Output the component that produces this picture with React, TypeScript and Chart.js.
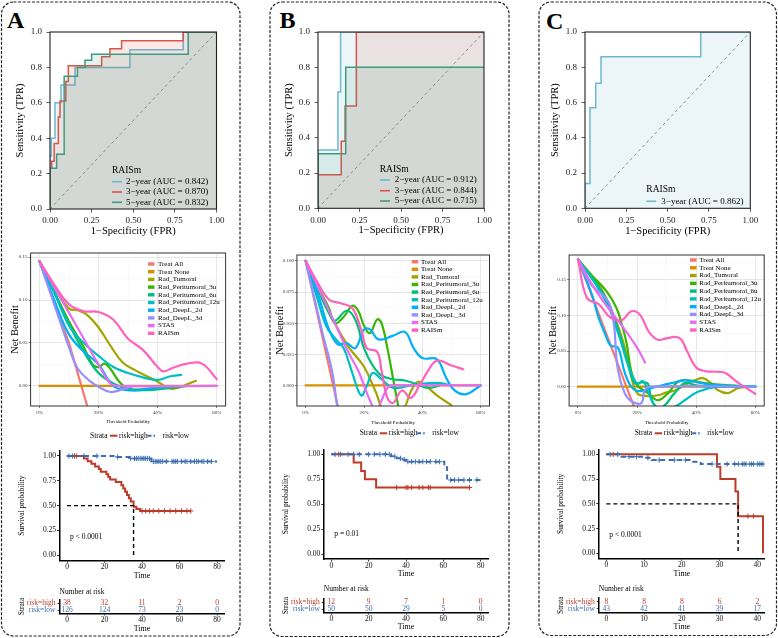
import React, { useEffect, useRef } from "react";
import { Chart, registerables } from "chart.js";

Chart.register(...registerables);

const FONT = '"Liberation Serif", "Times New Roman", Times, serif';
Chart.defaults.font.family = FONT;
Chart.defaults.color = "#000";

// ---------------- ROC data: [FPR, TPR] ----------------
const ROC_A_2Y = [[0,0],[0,0.3],[0.008,0.3],[0.008,0.4],[0.03,0.4],[0.03,0.6],[0.066,0.6],[0.066,0.7],[0.15,0.7],[0.15,0.8],[0.48,0.8],[0.48,0.9],[0.8,0.9],[0.8,1],[1,1]];
const ROC_A_3Y = [[0,0],[0,0.23],[0.01,0.23],[0.01,0.27],[0.025,0.27],[0.025,0.37],[0.05,0.37],[0.05,0.52],[0.06,0.52],[0.06,0.61],[0.095,0.61],[0.095,0.72],[0.11,0.72],[0.11,0.81],[0.31,0.81],[0.31,0.86],[0.36,0.86],[0.36,0.905],[0.43,0.905],[0.43,0.95],[0.8,0.95],[0.8,1],[1,1]];
const ROC_A_5Y = [[0,0],[0,0.23],[0.04,0.23],[0.04,0.31],[0.085,0.31],[0.085,0.75],[0.165,0.75],[0.165,0.8],[0.21,0.8],[0.21,0.84],[0.25,0.84],[0.25,0.875],[0.83,0.875],[0.83,1],[1,1]];
const ROC_B_2Y = [[0,0],[0,0.33],[0.12,0.33],[0.12,0.66],[0.136,0.66],[0.136,1],[1,1]];
const ROC_B_3Y = [[0,0],[0,0.19],[0.14,0.19],[0.14,0.38],[0.163,0.38],[0.163,0.58],[0.231,0.58],[0.231,1],[1,1]];
const ROC_B_5Y = [[0,0],[0,0.31],[0.167,0.31],[0.167,0.8],[1,0.8]];
const ROC_C_3Y = [[0,0],[0,0.14],[0.03,0.14],[0.03,0.57],[0.065,0.57],[0.065,0.71],[0.097,0.71],[0.097,0.86],[0.7,0.86],[0.7,1],[1,1]];
const ROC_LABELS_A = ["2\u2212year (AUC = 0.842)", "3\u2212year (AUC = 0.870)", "5\u2212year (AUC = 0.832)"];
const ROC_LABELS_B = ["2\u2212year (AUC = 0.912)", "3\u2212year (AUC = 0.844)", "5\u2212year (AUC = 0.715)"];
const ROC_LABELS_C = ["3\u2212year (AUC = 0.862)"];
const ROC_X_TICKS = [0, 0.25, 0.5, 0.75, 1];
const ROC_Y_TICKS = [0, 0.2, 0.4, 0.6, 0.8, 1];

// ---------------- DCA data: [threshold, net benefit] ----------------
const DCA_LABELS = ["Treat All","Treat None","Rad_Tumoral","Rad_Peritumoral_3u","Rad_Peritumoral_6u","Rad_Peritumoral_12u","Rad_DeepL_2d","Rad_DeepL_3d","STAS","RAISm"];
const DCA_X_TICKS = [0, 0.1, 0.2, 0.3, 0.4, 0.5, 0.6];

const DCA_A_ALL = [[0,0.145],[0.1,0.05],[0.2,-0.069]];
const DCA_A_NONE = [[0,0],[0.6,0]];
const DCA_A_TUM = [[0,0.145],[0.05,0.115],[0.1,0.09],[0.13,0.088],[0.16,0.083],[0.2,0.068],[0.24,0.047],[0.28,0.028],[0.32,0.019],[0.36,0.012],[0.4,0.005],[0.44,-0.003],[0.47,-0.002],[0.5,0.002],[0.53,0.006]];
const DCA_A_P3 = [[0,0.145],[0.05,0.11],[0.1,0.075],[0.15,0.045],[0.18,0.025],[0.2,0.022],[0.22,0.026],[0.24,0.02],[0.27,0.005],[0.3,-0.003],[0.35,-0.004],[0.4,-0.002],[0.45,0]];
const DCA_A_P6 = [[0,0.145],[0.05,0.108],[0.1,0.072],[0.15,0.04],[0.2,0.015],[0.25,0.003],[0.3,-0.004],[0.35,-0.005],[0.4,-0.004],[0.45,-0.002],[0.5,0]];
const DCA_A_P12 = [[0,0.145],[0.05,0.11],[0.1,0.07],[0.15,0.05],[0.2,0.035],[0.25,0.022],[0.3,0.015],[0.35,0.01],[0.4,0.007],[0.44,0.011],[0.48,0.013]];
const DCA_A_D2 = [[0,0.145],[0.05,0.1],[0.1,0.06],[0.15,0.04],[0.2,0.025],[0.25,0.0],[0.3,-0.005],[0.35,-0.004],[0.4,-0.002],[0.45,0]];
const DCA_A_D3 = [[0,0.145],[0.05,0.095],[0.1,0.045],[0.13,0.02],[0.17,0.006],[0.2,-0.001],[0.24,-0.007],[0.28,-0.004],[0.32,0]];
const DCA_A_STAS = [[0,0.145],[0.05,0.115],[0.1,0.085],[0.15,0.055],[0.2,0.025],[0.24,0.003],[0.27,0],[0.6,0]];
const DCA_A_RAISM = [[0,0.145],[0.05,0.118],[0.1,0.095],[0.15,0.087],[0.2,0.086],[0.25,0.077],[0.3,0.055],[0.35,0.042],[0.4,0.022],[0.42,0.017],[0.45,0.021],[0.5,0.026],[0.55,0.026],[0.6,0.008]];

const DCA_B_ALL = [[0,0.1],[0.15,-0.059]];
const DCA_B_NONE = [[0,0],[0.6,0]];
const DCA_B_TUM = [[0,0.1],[0.05,0.075],[0.1,0.05],[0.15,0.03],[0.2,0.015],[0.24,-0.005],[0.27,-0.02],[0.33,-0.02],[0.36,-0.005],[0.385,0.003],[0.41,0.0],[0.45,-0.008],[0.5,-0.016]];
const DCA_B_P3 = [[0,0.1],[0.04,0.08],[0.08,0.062],[0.1,0.05],[0.13,0.055],[0.16,0.064],[0.18,0.06],[0.2,0.048],[0.22,0.042],[0.245,0.053],[0.26,0.05],[0.28,0.03],[0.3,0.005],[0.32,-0.02]];
const DCA_B_P6 = [[0,0.1],[0.04,0.078],[0.08,0.058],[0.1,0.052],[0.14,0.06],[0.17,0.053],[0.2,0.03],[0.23,0.016],[0.26,0.008],[0.3,0.005],[0.34,0.004],[0.38,0.001],[0.42,-0.002],[0.46,0]];
const DCA_B_P12 = [[0,0.1],[0.04,0.07],[0.07,0.048],[0.1,0.038],[0.13,0.03],[0.16,0.01],[0.19,-0.008],[0.21,0],[0.23,0.01],[0.26,0.005],[0.3,-0.002],[0.36,0],[0.45,0.002],[0.5,0]];
const DCA_B_D2 = [[0,0.1],[0.04,0.075],[0.08,0.045],[0.11,0.033],[0.14,0.034],[0.17,0.03],[0.2,0.045],[0.22,0.045],[0.25,0.037],[0.3,0.04],[0.34,0.043],[0.37,0.03],[0.4,0.022],[0.45,0.021],[0.48,0.007],[0.51,-0.004],[0.55,-0.007],[0.6,0]];
const DCA_B_D3 = [[0,0.1],[0.03,0.07],[0.06,0.04],[0.09,0.012],[0.11,-0.02]];
const DCA_B_STAS = [[0,0.1],[0.05,0.075],[0.1,0.05],[0.15,0.025],[0.18,0.012],[0.2,0.0],[0.22,-0.012],[0.24,-0.02],[0.26,-0.012],[0.28,-0.002],[0.3,0],[0.6,0]];
const DCA_B_RAISM = [[0,0.1],[0.04,0.083],[0.08,0.069],[0.12,0.066],[0.16,0.062],[0.19,0.045],[0.21,0.03],[0.245,0.027],[0.26,0.012],[0.28,-0.01],[0.3,-0.014],[0.33,-0.004],[0.36,-0.01],[0.39,0.0],[0.42,0.012],[0.45,0.02],[0.5,0.016],[0.54,0.013]];

const DCA_C_ALL = [[0,0.179],[0.25,-0.094]];
const DCA_C_NONE = [[0,0],[0.6,0]];
const DCA_C_TUM = [[0,0.179],[0.04,0.158],[0.074,0.141],[0.108,0.113],[0.14,0.08],[0.165,0.045],[0.18,0.015],[0.2,-0.009],[0.23,-0.013],[0.27,-0.012],[0.3,-0.008],[0.33,-0.005],[0.36,0.002],[0.395,0.009],[0.423,0.012],[0.45,0.005],[0.474,-0.005],[0.508,-0.009],[0.541,-0.002],[0.58,0]];
const DCA_C_P3 = [[0,0.179],[0.05,0.155],[0.097,0.134],[0.131,0.11],[0.15,0.085],[0.165,0.06],[0.18,0.022],[0.2,0.002],[0.237,-0.009],[0.27,-0.019],[0.305,-0.009],[0.338,0.007],[0.372,0.009],[0.429,0.005],[0.474,0.003],[0.6,0]];
const DCA_C_P6 = [[0,0.179],[0.05,0.152],[0.1,0.12],[0.14,0.075],[0.17,0.03],[0.192,0.005],[0.215,0.006],[0.237,0.004],[0.25,-0.02],[0.28,-0.03],[0.327,-0.009],[0.361,0.005],[0.4,0.002],[0.45,0],[0.6,0]];
const DCA_C_P12 = [[0,0.179],[0.05,0.15],[0.1,0.115],[0.14,0.07],[0.17,0.03],[0.2,0.004],[0.22,0.008],[0.24,-0.01],[0.27,-0.03],[0.327,-0.028],[0.361,-0.019],[0.406,-0.007],[0.474,0],[0.6,0]];
const DCA_C_D2 = [[0,0.179],[0.046,0.131],[0.069,0.098],[0.09,0.076],[0.11,0.058],[0.135,0.055],[0.158,0.02],[0.18,0.0],[0.2,-0.006],[0.226,-0.005],[0.248,-0.002],[0.316,0.005],[0.361,0.009],[0.406,0.006],[0.45,0.003],[0.6,0]];
const DCA_C_D3 = [[0,0.179],[0.04,0.146],[0.108,0.115],[0.135,0.024],[0.158,-0.009],[0.18,-0.02],[0.214,-0.023],[0.226,-0.005],[0.248,0],[0.6,0]];
const DCA_C_STAS = [[0,0.179],[0.05,0.142],[0.1,0.112],[0.15,0.085],[0.2,0.055],[0.227,0.034]];
const DCA_C_RAISM = [[0,0.179],[0.03,0.125],[0.07,0.116],[0.11,0.097],[0.15,0.094],[0.18,0.106],[0.21,0.101],[0.24,0.077],[0.27,0.066],[0.3,0.068],[0.33,0.07],[0.35,0.066],[0.37,0.049],[0.4,0.027],[0.43,0.022],[0.47,0.021],[0.5,0.019],[0.54,0.006],[0.57,-0.002],[0.6,-0.01]];

// ---------------- Kaplan-Meier data: [time, survival] steps ----------------
const KM_A_HIGH = [[0,1],[9,0.974],[11,0.947],[13,0.921],[15,0.895],[17,0.868],[18,0.842],[21,0.816],[22,0.789],[23,0.763],[26,0.737],[29,0.705],[30,0.672],[31,0.64],[32,0.607],[33,0.574],[34,0.541],[35.5,0.49],[37,0.466],[39,0.447],[66,0.447]];
const KM_A_LOW = [[0,1],[27,0.99],[34,0.975],[45,0.945],[80,0.945]];
const KM_A_HIGH_CENS = [4,5,40,42,44,46,49,52,55,58,61,64,66];
const KM_A_LOW_CENS = [1,3,9,16,27,34,36,37,38,39,40,41,42,43,44,46,47,48,49,50,51,53,56,57,58,59,61,63,64,66,68,69,70,72,73,75,77];
const KM_A_MEDIAN = 35.5;

const KM_B_HIGH = [[0,1],[12,0.917],[16,0.833],[18,0.75],[24,0.667],[74,0.667]];
const KM_B_LOW = [[0,1],[32,0.98],[35,0.96],[38,0.946],[40,0.926],[60.5,0.87],[62,0.742],[80,0.742]];
const KM_B_HIGH_CENS = [4,35,40,41,43,47,49,52,53,74];
const KM_B_LOW_CENS = [2,5,9,12,15,20,23,26,29,31,34,37,39,41,43,45,47,49,51,53,56,58,64,66,68,71,74,78];

const KM_C_HIGH = [[0,1],[29.3,0.875],[30.2,0.75],[34.2,0.625],[34.9,0.375],[41.5,0]];
const KM_C_LOW = [[0,1],[4,0.977],[10,0.965],[12,0.942],[23,0.925],[25,0.902],[42,0.902]];
const KM_C_HIGH_CENS = [1.8,37.5,39];
const KM_C_LOW_CENS = [1,3,6,8,11,14,18,21,28,32,34,35,36,36.5,37,38,38.5,39,40,40.5,41,41.5];
const KM_C_MEDIAN = 34.9;

// ---------------- Number at risk ----------------
const RISK_TIMES_AB = [0,20,40,60,80];
const RISK_TIMES_C = [0,10,20,30,40];
const RISK_A_HIGH = [38,32,11,2,0];
const RISK_A_LOW = [126,124,73,23,0];
const RISK_B_HIGH = [12,9,7,1,0];
const RISK_B_LOW = [50,50,29,5,0];
const RISK_C_HIGH = [8,8,8,6,2];
const RISK_C_LOW = [43,42,41,39,17];
const STRATA = ["risk=high", "risk=low"];
const KM_Y_TICKS = [0, 0.25, 0.5, 0.75, 1];

// ---------------- styles ----------------
const ROC_COLORS = ["#6CB9D0", "#DA5548", "#3C9C80"];
const DCA_COLORS = ["#F8766D","#D89000","#A3A500","#39B600","#00BF7D","#00BFC4","#00B0F6","#9590FF","#E76BF3","#FF62BC"];
const KM_RED = "#BC3C29";
const KM_BLUE = "#3B6DB0";

const rgba = (hex: string, a: number) => {
  const n = parseInt(hex.slice(1), 16);
  return `rgba(${n >> 16},${(n >> 8) & 255},${n & 255},${a})`;
};
const pts = (arr: number[][]) => arr.map(([x, y]) => ({ x, y }));
const survAt = (steps: number[][], t: number) => {
  let s = steps[0][1];
  for (const [tt, ss] of steps) if (tt <= t) s = ss;
  return s;
};

type Geo = { cl: number; ct: number; cr: number; cb: number; L: number; T: number; R: number; B: number };

function yTitle(text: string, size: number, cx: number, g: Geo) {
  const lh = size * 1.2;
  return { display: true, text, color: "#000", font: { family: FONT, size }, padding: { top: cx - g.cl - lh / 2, bottom: 0 } };
}
function xTitle(text: string, size: number, cy: number, g: Geo) {
  const lh = size * 1.2;
  return { display: true, text, color: "#000", font: { family: FONT, size }, padding: { top: 0, bottom: g.cb - cy - lh / 2 } };
}
function text(ctx: any, s: string, x: number, y: number, size: number, color = "#000", align = "left") {
  ctx.save();
  ctx.font = `${size}px ${FONT}`;
  ctx.fillStyle = color;
  ctx.textAlign = align;
  ctx.textBaseline = "middle";
  ctx.fillText(s, x, y);
  ctx.restore();
}
const framePlugin = (w: number, color: string) => ({
  id: "frame",
  afterDatasetsDraw(chart: any) {
    const { ctx, chartArea: a } = chart;
    ctx.save();
    ctx.strokeStyle = color;
    ctx.lineWidth = w;
    ctx.strokeRect(a.left, a.top, a.right - a.left, a.bottom - a.top);
    ctx.restore();
  },
});

function ChartCanvas({ geo, build }: { geo: Geo; build: (g: Geo) => any }) {
  const ref = useRef<HTMLCanvasElement | null>(null);
  const w = geo.cr - geo.cl;
  const h = geo.cb - geo.ct;
  useEffect(() => {
    if (!ref.current) return;
    const cfg = build(geo);
    const o = cfg.options;
    o.responsive = false;
    o.maintainAspectRatio = false;
    o.animation = false;
    o.devicePixelRatio = 1;
    o.events = [];
    o.layout = { padding: { left: 0, bottom: 0, top: geo.T - geo.ct, right: geo.cr - geo.R } };
    o.plugins = Object.assign({ legend: { display: false }, tooltip: { enabled: false }, title: { display: false } }, o.plugins || {});
    o.scales.x.afterFit = (s: any) => { s.height = geo.cb - geo.B; s.paddingLeft = 0; s.paddingRight = 0; };
    o.scales.y.afterFit = (s: any) => { s.width = geo.L - geo.cl; s.paddingTop = 0; s.paddingBottom = 0; };
    const chart = new Chart(ref.current, cfg);
    return () => chart.destroy();
  }, []);
  return <canvas ref={ref} width={w} height={h} style={{ position: "absolute", left: geo.cl, top: geo.ct, width: w, height: h }} />;
}

// ---------------- ROC ----------------
type RocSpec = { curves: number[][][]; colors: string[]; labels: string[]; leg: { tx: number; ty: number; sx: number; textX: number; rows: number[] }; yTx: number; xTy: number };
function buildRoc(s: RocSpec) {
  return (g: Geo) => {
    const datasets: any[] = [
      { data: [{ x: 0, y: 0 }, { x: 1, y: 1 }], borderColor: "#8a8a8a", borderWidth: 1, borderDash: [3, 3], pointRadius: 0, fill: false, tension: 0, order: 10 },
      ...s.curves.map((c, i) => ({ data: pts(c), borderColor: s.colors[i], backgroundColor: rgba(s.colors[i], 0.13), borderWidth: 1.5, pointRadius: 0, fill: "origin", tension: 0, order: s.curves.length - i })),
    ];
    const tickFont = { family: FONT, size: 9 };
    return {
      type: "line",
      data: { datasets },
      options: {
        scales: {
          x: {
            type: "linear", min: 0, max: 1,
            afterBuildTicks: (sc: any) => { sc.ticks = ROC_X_TICKS.map((v) => ({ value: v })); },
            ticks: { autoSkip: false, maxRotation: 0, font: tickFont, color: "#222", padding: 3, callback: (v: any) => Number(v).toFixed(2) },
            grid: { drawOnChartArea: false, drawTicks: true, tickLength: 3.5, tickColor: "#333", tickWidth: 0.8 },
            border: { display: false },
            title: xTitle("1\u2212Specificity (FPR)", 10.5, s.xTy, g),
          },
          y: {
            type: "linear", min: 0, max: 1,
            afterBuildTicks: (sc: any) => { sc.ticks = ROC_Y_TICKS.map((v) => ({ value: v })); },
            ticks: { autoSkip: false, font: tickFont, color: "#222", padding: 4.5, callback: (v: any) => Number(v).toFixed(1) },
            grid: { drawOnChartArea: false, drawTicks: true, tickLength: 3.5, tickColor: "#333", tickWidth: 0.8 },
            border: { display: false },
            title: yTitle("Sensitivity (TPR)", 10.5, s.yTx, g),
          },
        },
      },
      plugins: [
        framePlugin(1.1, "#222"),
        {
          id: "rocLegend",
          afterDatasetsDraw(chart: any) {
            const ctx = chart.ctx;
            const L = s.leg;
            text(ctx, "RAISm", L.tx - g.cl, L.ty - g.ct, 9.5);
            s.labels.forEach((lab, i) => {
              const y = L.rows[i] - g.ct;
              ctx.save();
              ctx.strokeStyle = s.colors[i];
              ctx.lineWidth = 1.6;
              ctx.beginPath();
              ctx.moveTo(L.sx - g.cl, y);
              ctx.lineTo(L.sx + 10 - g.cl, y);
              ctx.stroke();
              ctx.restore();
              text(ctx, lab, L.textX - g.cl, y, 9);
            });
          },
        },
      ],
    };
  };
}

// ---------------- DCA ----------------
type DcaSpec = { series: number[][][]; yMin: number; yMax: number; yTicks: number[]; yStep: number; yDigits: number; leg: { sx: number; tx: number; y0: number; dy: number }; yTx: number; xTy: number };
function buildDca(s: DcaSpec) {
  return (g: Geo) => {
    const datasets = s.series.map((p, i) => ({
      data: pts(p), borderColor: DCA_COLORS[i], borderWidth: 2.2, pointRadius: 0, fill: false,
      tension: i < 2 ? 0 : 0.4, capBezierPoints: false, borderCapStyle: "round", order: s.series.length - i,
    }));
    const majX = (v: number) => Math.abs(v * 5 - Math.round(v * 5)) < 1e-6;
    const majY = (v: number) => Math.abs(v / s.yStep - Math.round(v / s.yStep)) < 1e-6;
    const tv = (c: any) => (c && c.tick ? c.tick.value : 0);
    const tickFont = { family: FONT, size: 5 };
    return {
      type: "line",
      data: { datasets },
      options: {
        scales: {
          x: {
            type: "linear", min: -0.03, max: 0.63,
            afterBuildTicks: (sc: any) => { sc.ticks = DCA_X_TICKS.map((v) => ({ value: v })); },
            ticks: { autoSkip: false, maxRotation: 0, font: tickFont, color: "#333", padding: 1.5, callback: (v: any) => (majX(v) ? Math.round(v * 100) + "%" : "") },
            grid: {
              color: (c: any) => (majX(tv(c)) ? "#E4E4E4" : "#F2F2F2"),
              lineWidth: (c: any) => (majX(tv(c)) ? 0.9 : 0.5),
              drawTicks: true, tickLength: 2,
              tickColor: (c: any) => (majX(tv(c)) ? "#333" : "rgba(0,0,0,0)"),
              tickWidth: 0.6,
            },
            border: { display: false },
            title: xTitle("Threshold Probability", 5, s.xTy, g),
          },
          y: {
            type: "linear", min: s.yMin, max: s.yMax,
            afterBuildTicks: (sc: any) => { sc.ticks = s.yTicks.map((v) => ({ value: v })); },
            ticks: { autoSkip: false, font: tickFont, color: "#333", padding: 1, callback: (v: any) => (majY(v) ? Number(v).toFixed(s.yDigits) : "") },
            grid: {
              color: (c: any) => (majY(tv(c)) ? "#E4E4E4" : "#F2F2F2"),
              lineWidth: (c: any) => (majY(tv(c)) ? 0.9 : 0.5),
              drawTicks: true, tickLength: 2,
              tickColor: (c: any) => (majY(tv(c)) ? "#333" : "rgba(0,0,0,0)"),
              tickWidth: 0.6,
            },
            border: { display: false },
            title: yTitle("Net Benefit", 10.5, s.yTx, g),
          },
        },
      },
      plugins: [
        framePlugin(1, "#333"),
        {
          id: "dcaLegend",
          afterDatasetsDraw(chart: any) {
            const ctx = chart.ctx;
            const L = s.leg;
            DCA_LABELS.forEach((lab, i) => {
              const y = L.y0 + i * L.dy - g.ct;
              ctx.save();
              ctx.fillStyle = DCA_COLORS[i];
              ctx.fillRect(L.sx - g.cl, y - 1.7, 6.5, 3.4);
              ctx.restore();
              text(ctx, lab, L.tx - g.cl, y, 7);
            });
          },
        },
      ],
    };
  };
}

// ---------------- Kaplan-Meier ----------------
type KmSpec = { xMax: number; xTicks: number[]; high: number[][]; low: number[][]; highCens: number[]; lowCens: number[]; median: number | null; pText: string; pPos: number[]; legX0: number; legY: number; yTx: number; xTy: number };
function buildKm(s: KmSpec) {
  return (g: Geo) => {
    const pad = s.xMax * 0.05;
    const datasets: any[] = [
      { data: pts(s.high), borderColor: KM_RED, borderWidth: 2, stepped: true, pointRadius: 0, fill: false, order: 4 },
      { data: pts(s.low), borderColor: KM_BLUE, borderWidth: 2, borderDash: [5, 3.5], stepped: true, pointRadius: 0, fill: false, order: 3 },
      { data: s.highCens.map((t) => ({ x: t, y: survAt(s.high, t) })), showLine: false, pointStyle: "cross", pointRadius: 2.6, pointBorderColor: KM_RED, pointBorderWidth: 1, order: 2 },
      { data: s.lowCens.map((t) => ({ x: t, y: survAt(s.low, t) })), showLine: false, pointStyle: "cross", pointRadius: 2.6, pointBorderColor: KM_BLUE, pointBorderWidth: 1, order: 1 },
    ];
    if (s.median !== null) {
      datasets.push({ data: [{ x: 0, y: 0.5 }, { x: s.median, y: 0.5 }, { x: s.median, y: 0 }], borderColor: "#000", borderWidth: 1.4, borderDash: [4, 3], pointRadius: 0, fill: false, tension: 0, order: 0 });
    }
    const tickFont = { family: FONT, size: 7.5 };
    return {
      type: "line",
      data: { datasets },
      options: {
        scales: {
          x: {
            type: "linear", min: -pad, max: s.xMax + pad,
            afterBuildTicks: (sc: any) => { sc.ticks = s.xTicks.map((v) => ({ value: v })); },
            ticks: { autoSkip: false, maxRotation: 0, font: tickFont, color: "#111", padding: 0 },
            grid: { drawOnChartArea: false, drawTicks: true, tickLength: 2.5, tickColor: "#000", tickWidth: 0.8 },
            border: { display: true, color: "#000", width: 1.5 },
            title: xTitle("Time", 8, s.xTy, g),
          },
          y: {
            type: "linear", min: -0.05, max: 1.05,
            afterBuildTicks: (sc: any) => { sc.ticks = KM_Y_TICKS.map((v) => ({ value: v })); },
            ticks: { autoSkip: false, font: tickFont, color: "#111", padding: 1, callback: (v: any) => Number(v).toFixed(2) },
            grid: { drawOnChartArea: false, drawTicks: true, tickLength: 2.5, tickColor: "#000", tickWidth: 0.8 },
            border: { display: true, color: "#000", width: 1.5 },
            title: yTitle("Survival probability", 7.5, s.yTx, g),
          },
        },
      },
      plugins: [
        {
          id: "kmText",
          afterDatasetsDraw(chart: any) {
            const ctx = chart.ctx;
            const xs = chart.scales.x, ys = chart.scales.y;
            text(ctx, s.pText, xs.getPixelForValue(s.pPos[0]), ys.getPixelForValue(s.pPos[1]), 7.5);
            const x0 = s.legX0 - g.cl, y = s.legY - g.ct;
            text(ctx, "Strata", x0, y, 7.5);
            ctx.save();
            ctx.lineWidth = 2;
            ctx.strokeStyle = KM_RED;
            ctx.beginPath(); ctx.moveTo(x0 + 20, y); ctx.lineTo(x0 + 27.5, y); ctx.stroke();
            ctx.strokeStyle = KM_BLUE;
            ctx.setLineDash([4, 2]);
            ctx.beginPath(); ctx.moveTo(x0 + 57.5, y); ctx.lineTo(x0 + 65, y); ctx.stroke();
            ctx.restore();
            text(ctx, STRATA[0], x0 + 29, y, 7.5);
            text(ctx, STRATA[1], x0 + 72.5, y, 7.5);
          },
        },
      ],
    };
  };
}

// ---------------- Risk table ----------------
type RiskSpec = { xMax: number; xTicks: number[]; times: number[]; high: number[]; low: number[]; numY: number; yTx: number; xTy: number };
function buildRisk(s: RiskSpec) {
  return (g: Geo) => {
    const pad = s.xMax * 0.05;
    const tickFont = { family: FONT, size: 7.5 };
    return {
      type: "line",
      data: { datasets: [] },
      options: {
        scales: {
          x: {
            type: "linear", min: -pad, max: s.xMax + pad,
            afterBuildTicks: (sc: any) => { sc.ticks = s.xTicks.map((v) => ({ value: v })); },
            ticks: { autoSkip: false, maxRotation: 0, font: tickFont, color: "#111", padding: 0 },
            grid: { drawOnChartArea: false, drawTicks: true, tickLength: 2, tickColor: "#000", tickWidth: 0.8 },
            border: { display: true, color: "#000", width: 1.5 },
            title: xTitle("Time", 8, s.xTy, g),
          },
          y: {
            type: "category", labels: STRATA, offset: true,
            ticks: { autoSkip: false, font: tickFont, padding: 2, color: (c: any) => (c.index === 0 ? KM_RED : KM_BLUE) },
            grid: { drawOnChartArea: false, drawTicks: true, tickLength: 2, tickColor: "#000", tickWidth: 0.8 },
            border: { display: true, color: "#000", width: 1.5 },
            title: yTitle("Strata", 7.5, s.yTx, g),
          },
        },
      },
      plugins: [
        {
          id: "riskNums",
          afterDraw(chart: any) {
            const ctx = chart.ctx;
            const xs = chart.scales.x, ys = chart.scales.y;
            text(ctx, "Number at risk", chart.chartArea.left, s.numY - g.ct, 7.5);
            [s.high, s.low].forEach((row, r) => {
              row.forEach((n, i) => {
                text(ctx, String(n), xs.getPixelForValue(s.times[i]), ys.getPixelForValue(r), 7.5, r === 0 ? KM_RED : KM_BLUE, "center");
              });
            });
          },
        },
      ],
    };
  };
}

// ---------------- layout ----------------
const G = {
  rocA: { cl: 12, ct: 20, cr: 234, cb: 240, L: 50, T: 32, R: 216.5, B: 209 },
  rocB: { cl: 281, ct: 20, cr: 500, cb: 239, L: 318, T: 32, R: 484, B: 208.3 },
  rocC: { cl: 547, ct: 20, cr: 766, cb: 240, L: 585, T: 32, R: 750.3, B: 208.3 },
  dcaA: { cl: 6, ct: 246, cr: 236, cb: 427, L: 30.6, T: 253, R: 225.6, B: 406 },
  dcaB: { cl: 272, ct: 248, cr: 500, cb: 428, L: 296.9, T: 255, R: 489.5, B: 406 },
  dcaC: { cl: 545, ct: 248, cr: 774, cb: 428, L: 569.1, T: 255, R: 764.2, B: 406 },
  kmA: { cl: 14, ct: 425, cr: 236, cb: 583, L: 59.5, T: 451, R: 224.5, B: 560.3 },
  kmB: { cl: 279, ct: 425, cr: 500, cb: 581, L: 323.8, T: 449.3, R: 488.2, B: 559 },
  kmC: { cl: 554, ct: 425, cr: 776, cb: 581, L: 598.8, T: 449.4, R: 764.9, B: 558.3 },
  rkA: { cl: 14, ct: 583, cr: 236, cb: 636, L: 59.5, T: 599.5, R: 224.5, B: 613.5 },
  rkB: { cl: 279, ct: 583, cr: 500, cb: 635, L: 323.8, T: 598.5, R: 488.2, B: 612.7 },
  rkC: { cl: 554, ct: 583, cr: 776, cb: 635, L: 598.8, T: 598, R: 764.9, B: 612.3 },
};

const rocA = buildRoc({ curves: [ROC_A_2Y, ROC_A_3Y, ROC_A_5Y], colors: ROC_COLORS, labels: ROC_LABELS_A, leg: { tx: 112, ty: 170, sx: 112, textX: 126, rows: [181.7, 192, 202.3] }, yTx: 20.7, xTy: 231.7 });
const rocB = buildRoc({ curves: [ROC_B_2Y, ROC_B_3Y, ROC_B_5Y], colors: ROC_COLORS, labels: ROC_LABELS_B, leg: { tx: 379.7, ty: 169.3, sx: 380, textX: 394.7, rows: [180, 190.7, 201] }, yTx: 289.7, xTy: 230.7 });
const rocC = buildRoc({ curves: [ROC_C_3Y], colors: [ROC_COLORS[0]], labels: ROC_LABELS_C, leg: { tx: 646.3, ty: 189.3, sx: 646.3, textX: 661.3, rows: [201.3] }, yTx: 555.3, xTy: 231.7 });

const dcaA = buildDca({ series: [DCA_A_ALL, DCA_A_NONE, DCA_A_TUM, DCA_A_P3, DCA_A_P6, DCA_A_P12, DCA_A_D2, DCA_A_D3, DCA_A_STAS, DCA_A_RAISM], yMin: -0.0233, yMax: 0.1547, yTicks: [0, 0.025, 0.05, 0.075, 0.1, 0.125, 0.15], yStep: 0.05, yDigits: 2, leg: { sx: 148, tx: 158, y0: 264, dy: 7.7 }, yTx: 15, xTy: 421.7 });
const dcaB = buildDca({ series: [DCA_B_ALL, DCA_B_NONE, DCA_B_TUM, DCA_B_P3, DCA_B_P6, DCA_B_P12, DCA_B_D2, DCA_B_D3, DCA_B_STAS, DCA_B_RAISM], yMin: -0.0165, yMax: 0.1048, yTicks: [-0.0125, 0, 0.0125, 0.025, 0.0375, 0.05, 0.0625, 0.075, 0.0875, 0.1], yStep: 0.025, yDigits: 3, leg: { sx: 411.7, tx: 421, y0: 261.7, dy: 7.6 }, yTx: 280.7, xTy: 422.3 });
const dcaC = buildDca({ series: [DCA_C_ALL, DCA_C_NONE, DCA_C_TUM, DCA_C_P3, DCA_C_P6, DCA_C_P12, DCA_C_D2, DCA_C_D3, DCA_C_STAS, DCA_C_RAISM], yMin: -0.0271, yMax: 0.1851, yTicks: [-0.025, 0, 0.025, 0.05, 0.075, 0.1, 0.125, 0.15, 0.175], yStep: 0.05, yDigits: 2, leg: { sx: 690, tx: 699.3, y0: 260, dy: 7.78 }, yTx: 553, xTy: 422.3 });

const kmA = buildKm({ xMax: 80, xTicks: RISK_TIMES_AB, high: KM_A_HIGH, low: KM_A_LOW, highCens: KM_A_HIGH_CENS, lowCens: KM_A_LOW_CENS, median: KM_A_MEDIAN, pText: "p < 0.0001", pPos: [1.6, 0.187], legX0: 90, legY: 435.7, yTx: 21.7, xTy: 576 });
const kmB = buildKm({ xMax: 80, xTicks: RISK_TIMES_AB, high: KM_B_HIGH, low: KM_B_LOW, highCens: KM_B_HIGH_CENS, lowCens: KM_B_LOW_CENS, median: null, pText: "p = 0.01", pPos: [1.6, 0.198], legX0: 359.7, legY: 433.3, yTx: 286.3, xTy: 574 });
const kmC = buildKm({ xMax: 40, xTicks: RISK_TIMES_C, high: KM_C_HIGH, low: KM_C_LOW, highCens: KM_C_HIGH_CENS, lowCens: KM_C_LOW_CENS, median: KM_C_MEDIAN, pText: "p < 0.0001", pPos: [0.8, 0.185], legX0: 634.7, legY: 433.3, yTx: 560.7, xTy: 574 });

const rkA = buildRisk({ xMax: 80, xTicks: RISK_TIMES_AB, times: RISK_TIMES_AB, high: RISK_A_HIGH, low: RISK_A_LOW, numY: 591.7, yTx: 21.7, xTy: 629 });
const rkB = buildRisk({ xMax: 80, xTicks: RISK_TIMES_AB, times: RISK_TIMES_AB, high: RISK_B_HIGH, low: RISK_B_LOW, numY: 589, yTx: 286.3, xTy: 627.3 });
const rkC = buildRisk({ xMax: 40, xTicks: RISK_TIMES_C, times: RISK_TIMES_C, high: RISK_C_HIGH, low: RISK_C_LOW, numY: 589, yTx: 560.7, xTy: 626.7 });

const letterStyle = (left: number, top: number): React.CSSProperties => ({
  position: "absolute", left, top, fontFamily: FONT, fontWeight: "bold", fontSize: 24, lineHeight: "24px", color: "#000",
});

export default function App() {
  return (
    <div style={{ position: "fixed", left: 0, top: 0, width: 778, height: 638, background: "#fff", overflow: "hidden" }}>
      <svg width={778} height={638} style={{ position: "absolute", left: 0, top: 0 }}>
        <rect x={1.5} y={2} width={238.5} height={634} rx={12} fill="none" stroke="#222" strokeWidth={1.2} strokeDasharray="3 1.6" />
        <rect x={270} y={2} width={239} height={634.5} rx={12} fill="none" stroke="#222" strokeWidth={1.2} strokeDasharray="3 1.6" />
        <rect x={539} y={2} width={237.5} height={633.5} rx={12} fill="none" stroke="#222" strokeWidth={1.2} strokeDasharray="3 1.6" />
      </svg>
      <div style={letterStyle(7, 8)}>A</div>
      <div style={letterStyle(279.5, 8)}>B</div>
      <div style={letterStyle(546, 9)}>C</div>
      <ChartCanvas geo={G.rocA} build={rocA} />
      <ChartCanvas geo={G.rocB} build={rocB} />
      <ChartCanvas geo={G.rocC} build={rocC} />
      <ChartCanvas geo={G.dcaA} build={dcaA} />
      <ChartCanvas geo={G.dcaB} build={dcaB} />
      <ChartCanvas geo={G.dcaC} build={dcaC} />
      <ChartCanvas geo={G.kmA} build={kmA} />
      <ChartCanvas geo={G.kmB} build={kmB} />
      <ChartCanvas geo={G.kmC} build={kmC} />
      <ChartCanvas geo={G.rkA} build={rkA} />
      <ChartCanvas geo={G.rkB} build={rkB} />
      <ChartCanvas geo={G.rkC} build={rkC} />
    </div>
  );
}
